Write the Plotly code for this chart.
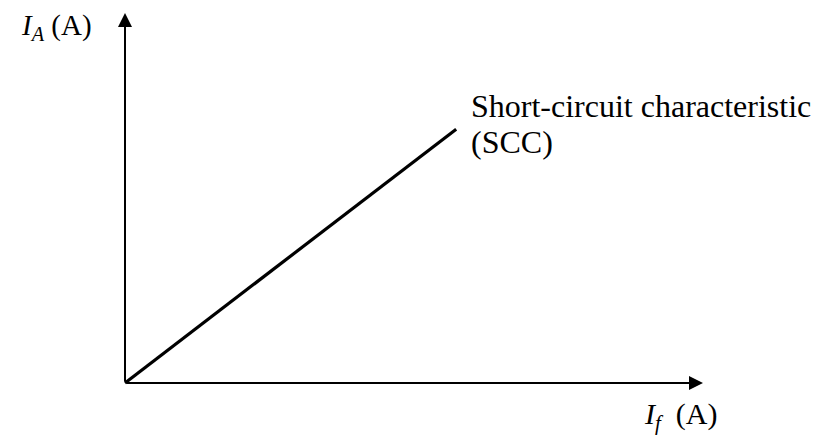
import plotly.graph_objects as go

# Data (arbitrary units)
field_current = [0.0, 5.73]      # I_f
armature_current = [0.0, 6.86]   # I_A
axis_end_x = 10.0
axis_end_y = 10.0
x_label = "<i>I</i><sub><i>f</i></sub>  (A)"
y_label = "<i>I</i><sub><i>A</i></sub> (A)"
curve_label_1 = "Short-circuit characteristic"
curve_label_2 = "(SCC)"

# page body has an 8px margin; work in window pixels and shift
OFF = 8
W, H = 825 - OFF, 436 - OFF
ox, oy = 125.0 - OFF, 383.0 - OFF
sx, sy = 57.8, 37.0

def px(x):
    return (x - OFF - ox) / sx

def py(y):
    return (oy - (y - OFF)) / sy

FONT = "Liberation Serif"

fig = go.Figure()
fig.add_trace(go.Scatter(x=field_current, y=armature_current, mode="lines",
                         line=dict(color="black", width=3.2), hoverinfo="skip"))

# axes with arrows
fig.add_annotation(x=axis_end_x, y=0, ax=0, ay=0, xref="x", yref="y", axref="x", ayref="y",
                   text="", showarrow=True, arrowhead=2, arrowsize=1.4, arrowwidth=2, arrowcolor="black")
fig.add_annotation(x=0, y=axis_end_y, ax=0, ay=0, xref="x", yref="y", axref="x", ayref="y",
                   text="", showarrow=True, arrowhead=2, arrowsize=1.4, arrowwidth=2, arrowcolor="black")

fig.add_annotation(x=px(20), y=py(OFF), text=y_label, showarrow=False, xanchor="left", yanchor="top",
                   borderpad=0, font=dict(family=FONT, size=29, color="black"))
fig.add_annotation(x=px(642), y=py(416), text=x_label, showarrow=False, xanchor="left", yanchor="middle",
                   font=dict(family=FONT, size=30, color="black"))
fig.add_annotation(x=px(469), y=py(106), text=curve_label_1, showarrow=False, xanchor="left", yanchor="middle",
                   font=dict(family=FONT, size=32, color="black"))
fig.add_annotation(x=px(469), y=py(142), text=curve_label_2, showarrow=False, xanchor="left", yanchor="middle",
                   font=dict(family=FONT, size=32, color="black"))

fig.update_xaxes(range=[px(OFF), px(OFF + W)], visible=False)
fig.update_yaxes(range=[py(OFF + H), py(OFF)], visible=False)
fig.update_layout(width=W, height=H, margin=dict(l=0, r=0, t=0, b=0),
                  plot_bgcolor="white", paper_bgcolor="white", showlegend=False)

fig.write_html("out.html")
